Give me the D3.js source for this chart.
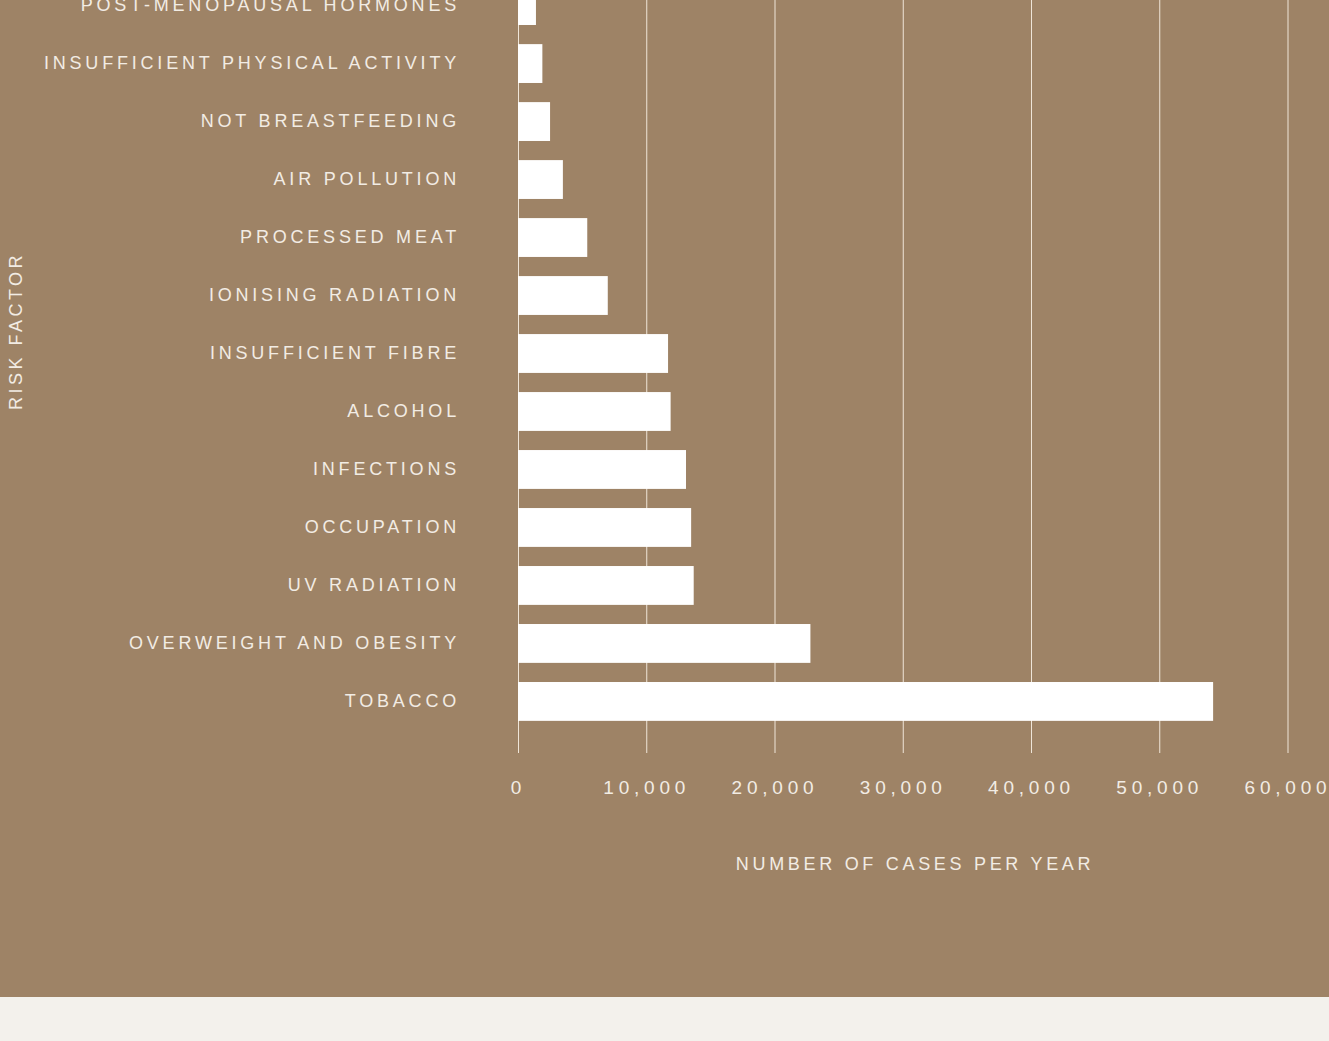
<!DOCTYPE html>
<html>
<head>
<meta charset="utf-8">
<script src="https://cdn.jsdelivr.net/npm/d3@7"></script>
<style>
  body { margin: 0; background: #f3f1ec; }
  svg text { font-family: "Liberation Sans", Arial, sans-serif; fill: #f2ece4; }
</style>
</head>
<body>
<div id="chart"></div>
<script>
// risk factors, top to bottom as in the picture
const factors = [
    "POST-MENOPAUSAL HORMONES", "INSUFFICIENT PHYSICAL ACTIVITY", "NOT BREASTFEEDING",
    "AIR POLLUTION", "PROCESSED MEAT", "IONISING RADIATION", "INSUFFICIENT FIBRE",
    "ALCOHOL", "INFECTIONS", "OCCUPATION", "UV RADIATION", "OVERWEIGHT AND OBESITY", "TOBACCO"
]
const cases = [1400, 1900, 2500, 3500, 5400, 7000, 11700, 11900, 13100, 13500, 13700, 22800, 54200]
const xTicks = [0, 10000, 20000, 30000, 40000, 50000, 60000]

const svg = d3.select("#chart")
    .append("svg")
    .attr("width", 1329)
    .attr("height", 997)
    .style("display", "block")

svg.append("rect")
    .attr("width", 1329)
    .attr("height", 997)
    .attr("fill", "#9e8366")

const x = d3.scaleLinear()
    .domain([0, 60000])
    .range([518, 1287.5])

const y = d3.scaleBand()
    .domain(factors)
    .range([-33, 740])
    .paddingInner(0.33)
    .paddingOuter(0.33)

// x axis + grid lines
const xAxisCall = d3.axisBottom(x)
    .tickValues(xTicks)
    .tickSize(-760)
    .tickPadding(28)
    .tickFormat(d3.format(","))

const xAxis = svg.append("g")
    .attr("transform", "translate(0, 753)")
    .call(xAxisCall)
xAxis.select(".domain").remove()
xAxis.selectAll("line").attr("stroke", "#efe5d8").attr("stroke-width", 1)
xAxis.selectAll("text")
    .attr("fill", "#f2ece4")
    .style("font-size", "19px")
    .style("letter-spacing", "4.8px")

// bars
svg.selectAll("rect.bar")
    .data(factors)
    .enter().append("rect")
    .attr("class", "bar")
    .attr("x", x(0))
    .attr("y", d => y(d))
    .attr("width", (d, i) => x(cases[i]) - x(0))
    .attr("height", y.bandwidth())
    .attr("fill", "#ffffff")

// category labels
svg.selectAll("text.label")
    .data(factors)
    .enter().append("text")
    .attr("class", "label")
    .attr("x", 460)
    .attr("y", d => y(d) + y.bandwidth() / 2)
    .attr("dy", "0.3em")
    .attr("text-anchor", "end")
    .style("font-size", "18px")
    .style("letter-spacing", "3.8px")
    .text(d => d)

// axis titles
svg.append("text")
    .attr("x", 915)
    .attr("y", 870)
    .attr("text-anchor", "middle")
    .style("font-size", "18px")
    .style("letter-spacing", "3.7px")
    .text("NUMBER OF CASES PER YEAR")

svg.append("text")
    .attr("transform", "translate(22, 331) rotate(-90)")
    .attr("text-anchor", "middle")
    .style("font-size", "18px")
    .style("letter-spacing", "3.5px")
    .text("RISK FACTOR")
</script>
</body>
</html>
